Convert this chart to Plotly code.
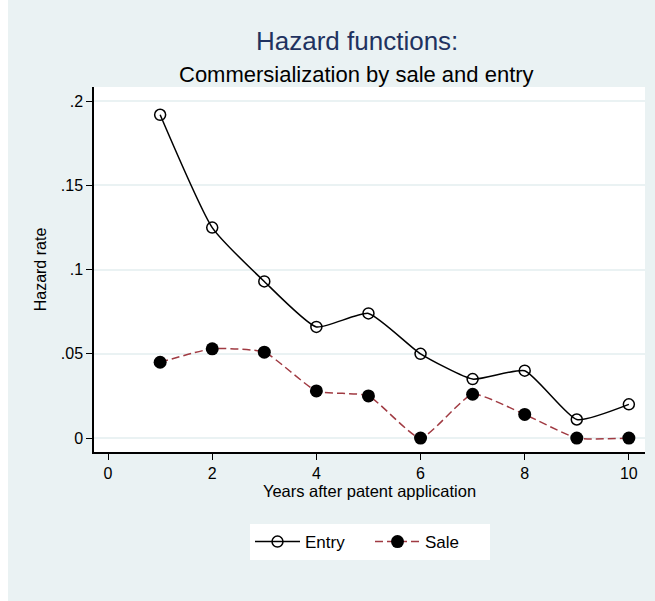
import plotly.graph_objects as go

years = [1, 2, 3, 4, 5, 6, 7, 8, 9, 10]
entry = [0.192, 0.125, 0.093, 0.066, 0.074, 0.050, 0.035, 0.040, 0.011, 0.020]
sale = [0.045, 0.053, 0.051, 0.028, 0.025, 0.000, 0.026, 0.014, 0.000, 0.000]
y_ticks = [0, 0.05, 0.1, 0.15, 0.2]
y_ticktext = ["0", ".05", ".1", ".15", ".2"]
x_ticks = [0, 2, 4, 6, 8, 10]

BG = "#EAF2F3"
FONT = "Liberation Sans, Arial, sans-serif"
W, H = 655, 601
L, R, T, B = 94, 10, 87, 149
pw = W - L - R
ph = H - T - B

def px_x(p):
    return (p - L) / pw

def px_y(p):
    return (H - B - p) / ph

fig = go.Figure()
fig.add_trace(go.Scatter(
    x=years, y=entry, name="Entry", mode="lines+markers",
    line=dict(color="black", width=1.5, shape="spline", smoothing=0.5),
    marker=dict(symbol="circle-open", size=11, color="black", line=dict(width=1.5)),
))
fig.add_trace(go.Scatter(
    x=years, y=sale, name="Sale", mode="lines+markers",
    line=dict(color="#A03A42", width=1.5, dash="8px,4px", shape="spline", smoothing=0.5),
    marker=dict(symbol="circle", size=13, color="black"),
))

fig.update_layout(
    width=W, height=H,
    margin=dict(l=L, r=R, t=T, b=B),
    paper_bgcolor=BG, plot_bgcolor="white",
    font=dict(family=FONT, size=16, color="black"),
    showlegend=True,
    legend=dict(orientation="h", x=px_x(370), xanchor="center", y=px_y(524), yanchor="top",
                bgcolor="white", font=dict(size=17), itemwidth=45, entrywidth=60),
    xaxis=dict(range=[-0.27, 10.31], tickvals=x_ticks, ticks="outside", ticklen=6,
               tickcolor="black", showline=True, linecolor="black", linewidth=1.5,
               showgrid=False, zeroline=False, tickfont=dict(size=16),
               title=dict(text="Years after patent application", font=dict(size=16.5), standoff=0)),
    yaxis=dict(range=[-0.0083, 0.2085], tickvals=y_ticks, ticktext=y_ticktext,
               ticks="outside", ticklen=6, tickcolor="black", showline=True,
               linecolor="black", linewidth=1.5, showgrid=True, gridcolor=BG,
               gridwidth=1.5, zeroline=False, tickfont=dict(size=16),
               title=dict(text="Hazard rate", font=dict(size=16), standoff=10)),
    shapes=[dict(type="rect", xref="paper", yref="paper",
                 x0=px_x(0), x1=px_x(8), y0=px_y(H), y1=px_y(0),
                 fillcolor="white", line=dict(width=0), layer="below")],
    annotations=[
        dict(text="Hazard functions:", xref="paper", yref="paper", x=px_x(357), y=px_y(41),
             xanchor="center", yanchor="middle", showarrow=False,
             font=dict(size=26, color="#1F3260", family=FONT)),
        dict(text="Commersialization by sale and entry", xref="paper", yref="paper",
             x=px_x(356), y=px_y(74), xanchor="center", yanchor="middle", showarrow=False,
             font=dict(size=22, color="black", family=FONT)),
    ],
)

fig.write_html("out.html", config={"displayModeBar": False}, post_script=(
    "document.documentElement.style.margin='0';"
    "document.body.style.margin='0';"
    "document.body.style.overflow='hidden';"
))
